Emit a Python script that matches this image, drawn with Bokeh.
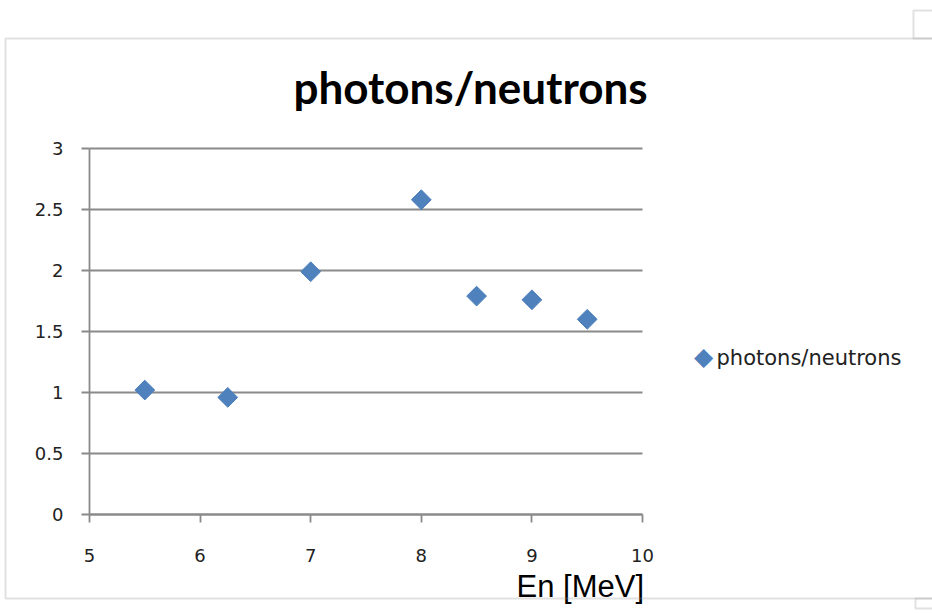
from bokeh.plotting import figure
from bokeh.models import FixedTicker, NumeralTickFormatter, Label, BoxAnnotation
from bokeh.embed import file_html
from bokeh.resources import INLINE
import numpy as np

# Measured ratio of photons to neutrons against neutron energy
energy_mev = [5.5, 6.25, 7.0, 8.0, 8.5, 9.0, 9.5]
ratio = [1.02, 0.96, 1.99, 2.58, 1.79, 1.76, 1.60]

x_ticks = [5, 6, 7, 8, 9, 10]
y_ticks = [0, 0.5, 1, 1.5, 2, 2.5, 3]

series_name = "photons/neutrons"
chart_title = "photons/neutrons"
x_title = "En [MeV]"

BLUE = "#4F81BD"
GRID = "#8a8a8a"
FRAME = "#9c9c9c"
TICK_FONT = "DejaVu Sans"

W, H = 932, 613
# plot area inside the canvas, in pixels
LEFT, RIGHT, TOP, BOTTOM = 89, 642, 148, 514

x_lo, x_hi = x_ticks[0], x_ticks[-1]
y_lo, y_hi = y_ticks[0], y_ticks[-1]
px_x = (RIGHT - LEFT) / (x_hi - x_lo)
px_y = (BOTTOM - TOP) / (y_hi - y_lo)

# the frame fills the whole canvas; the axes sit at fixed spots inside it
p = figure(width=W, height=H, output_backend="svg", toolbar_location=None,
           x_range=(x_lo - LEFT / px_x, x_hi + (W - RIGHT) / px_x),
           y_range=(y_lo - (H - BOTTOM) / px_y, y_hi + TOP / px_y),
           min_border=0)
p.outline_line_color = None
p.background_fill_color = "white"
p.border_fill_color = "white"
p.xgrid.visible = False
p.ygrid.visible = False

# horizontal gridlines across the plot area
p.segment(x0=[x_lo] * len(y_ticks), x1=[x_hi] * len(y_ticks), y0=y_ticks, y1=y_ticks,
          line_color=GRID, line_width=1.8)

for ax in (p.xaxis[0], p.yaxis[0]):
    ax.axis_line_color = GRID
    ax.axis_line_width = 1.8
    ax.major_tick_line_color = GRID
    ax.major_tick_line_width = 1.8
    ax.major_tick_in = 0
    ax.major_tick_out = 8
    ax.minor_tick_line_color = None
    ax.major_label_text_font = TICK_FONT
    ax.major_label_text_font_size = "18px"
    ax.major_label_text_color = "#222222"

p.xaxis.fixed_location = y_lo
p.yaxis.fixed_location = x_lo
p.xaxis.bounds = (x_lo, x_hi)
p.yaxis.bounds = (y_lo, y_hi)
p.xaxis.ticker = FixedTicker(ticks=x_ticks)
p.yaxis.ticker = FixedTicker(ticks=y_ticks)
p.yaxis.formatter = NumeralTickFormatter(format="0.[0]")
p.xaxis.major_label_standoff = 26
p.yaxis.major_label_standoff = 18

p.scatter(energy_mev, ratio, marker="square", angle=np.pi / 4, size=14,
          fill_color=BLUE, line_color=BLUE)


def screen_label(x, y, text, **kw):
    return Label(x=x, y=H - y, x_units="screen", y_units="screen", text=text, **kw)


# chart title and axis caption
p.add_layout(screen_label(470, 86, chart_title, text_align="center",
                          text_baseline="alphabetic", text_font="Lato",
                          text_font_style="bold", text_font_size="44px",
                          text_color="#000000"))
p.add_layout(screen_label(516, 586, x_title, text_align="left",
                          text_baseline="alphabetic", text_font="Liberation Sans",
                          text_font_size="31px", text_color="#000000"))

# legend: diamond key and series name
p.add_layout(screen_label(703, 356, "\u25c6", text_align="center",
                          text_baseline="middle", text_font="DejaVu Sans",
                          text_font_size="25px", text_color=BLUE))
p.add_layout(screen_label(716, 357, series_name, text_align="left",
                          text_baseline="middle", text_font=TICK_FONT,
                          text_font_size="21px", text_color="#222222"))


# chart area border and the corner marks
def frame_box(left, top, bottom):
    return BoxAnnotation(left=left, right=W + 20, top=H - top, bottom=H - bottom,
                         left_units="screen", right_units="screen",
                         top_units="screen", bottom_units="screen",
                         fill_color=None, line_color=FRAME, line_width=2)


p.add_layout(frame_box(5, 38, 598))
p.add_layout(frame_box(913, 10, 38))
p.add_layout(frame_box(915, 598, 608))

open("out.html", "w").write(file_html(p, INLINE))
